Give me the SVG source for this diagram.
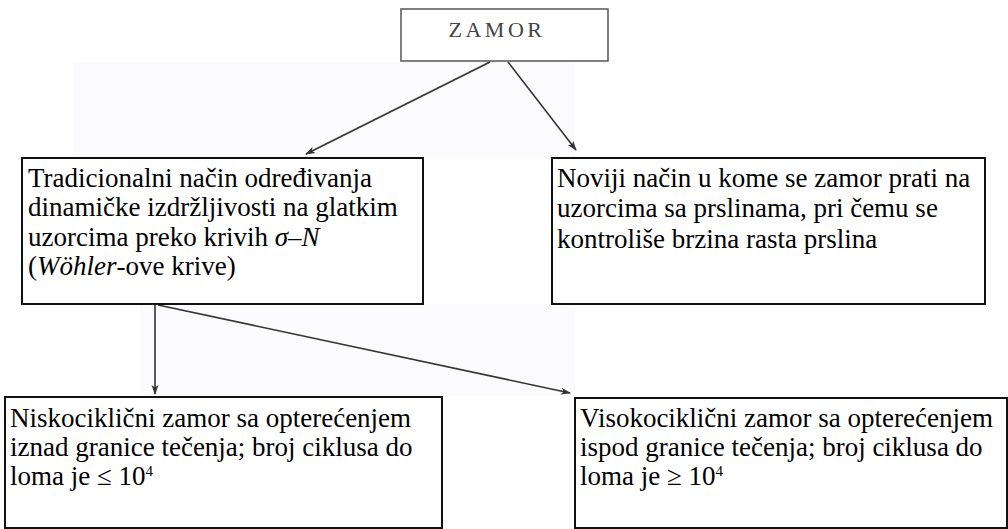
<svg xmlns="http://www.w3.org/2000/svg" width="1008" height="529" viewBox="0 0 1008 529">
<style>
.box{fill:#fff;stroke:#111;stroke-width:2}
.lbl{font-family:'Liberation Serif',serif;font-size:27px;fill:#000}
.sup{font-size:15px}
.conn{fill:none;stroke:#333;stroke-width:1.6}
</style>
<defs>
<marker id="ah" markerWidth="10" markerHeight="8" refX="9" refY="4" orient="auto" markerUnits="userSpaceOnUse">
<path d="M0,0.5 L10,4 L0,7.5 L2.5,4 Z" fill="#333"/>
</marker>
</defs>
<rect width="1008" height="529" fill="#fff"/>
<rect x="73" y="62" width="502" height="96" fill="#fbfbfe"/>
<rect x="140" y="304" width="435" height="92" fill="#fbfbfe"/>
<g id="connectors">
<line class="conn" x1="490" y1="62" x2="306" y2="154" marker-end="url(#ah)"/>
<line class="conn" x1="508" y1="62" x2="576" y2="150" marker-end="url(#ah)"/>
<line class="conn" x1="155" y1="305" x2="155" y2="394" marker-end="url(#ah)"/>
<line class="conn" x1="158" y1="305" x2="570" y2="393" marker-end="url(#ah)"/>
</g>
<g id="zamor">
<rect x="401" y="9" width="207" height="52" fill="#fff" stroke="#555" stroke-width="1.5"/>
<text x="497" y="37" text-anchor="middle" font-family="'Liberation Serif', serif" font-size="22" fill="#444" letter-spacing="3.5">ZAMOR</text>
</g>
<g id="tradicionalni">
<rect class="box" x="22" y="158" width="401" height="146"/>
<text class="lbl" x="28" y="187">Tradicionalni način određivanja</text>
<text class="lbl" x="28" y="216">dinamičke izdržljivosti na glatkim</text>
<text class="lbl" x="28" y="246">uzorcima preko krivih <tspan font-style="italic">σ</tspan>–<tspan font-style="italic">N</tspan></text>
<text class="lbl" x="28" y="275">(<tspan font-style="italic">Wöhler</tspan>-ove krive)</text>
</g>
<g id="noviji">
<rect class="box" x="552" y="158" width="433" height="146"/>
<text class="lbl" x="557" y="187">Noviji način u kome se zamor prati na</text>
<text class="lbl" x="557" y="217">uzorcima sa prslinama, pri čemu se</text>
<text class="lbl" x="557" y="248">kontroliše brzina rasta prslina</text>
</g>
<g id="nisko">
<rect class="box" x="5" y="397" width="437" height="131"/>
<text class="lbl" x="10" y="427">Niskociklični zamor sa opterećenjem</text>
<text class="lbl" x="10" y="456">iznad granice tečenja; broj ciklusa do</text>
<text class="lbl" x="10" y="485">loma je ≤ 10<tspan class="sup" dy="-9">4</tspan></text>
</g>
<g id="visoko">
<rect class="box" x="575" y="398" width="432" height="130"/>
<text class="lbl" x="580" y="427">Visokociklični zamor sa opterećenjem</text>
<text class="lbl" x="580" y="456">ispod granice tečenja; broj ciklusa do</text>
<text class="lbl" x="580" y="485">loma je ≥ 10<tspan class="sup" dy="-9">4</tspan></text>
</g>
</svg>
